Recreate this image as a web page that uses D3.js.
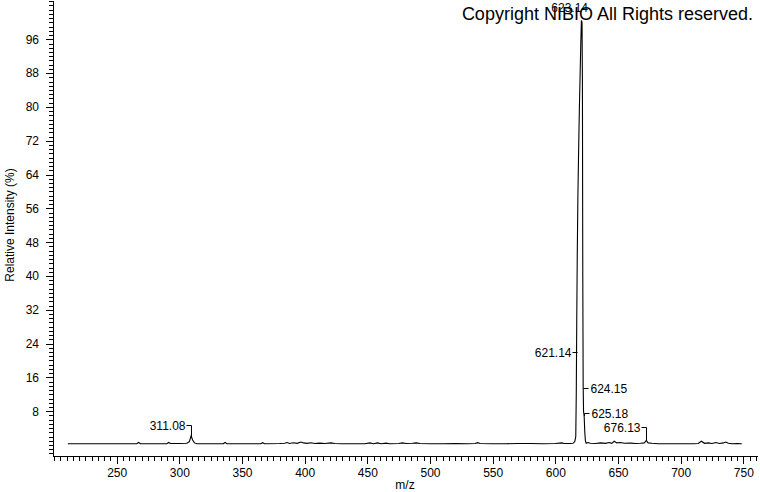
<!DOCTYPE html>
<html>
<head>
<meta charset="utf-8">
<script src="https://cdn.jsdelivr.net/npm/d3@7"></script>
<style>
  body { margin: 0; background: #fff; }
  text { font-family: "Liberation Sans", Arial, sans-serif; }
  .axis path, .axis line { stroke: #000; shape-rendering: crispEdges; }
  .axis text { font-size: 12px; fill: #000; }
</style>
</head>
<body>
<div id="chart"></div>
<script>
// spectrum: [m/z, relative intensity %]
var spectrum = [
  [211,0.3],[220,0.3],[230,0.3],[240,0.3],[250,0.3],[260,0.3],[266,0.3],[267.5,0.6],[269,0.3],
  [280,0.3],[290,0.3],[291.5,0.6],[293,0.35],[300,0.35],[306,0.4],[308,0.8],[309.4,2.2],
  [310.6,1.2],[312,0.5],[314,0.3],[325,0.3],[335,0.3],[336.5,0.6],[338,0.3],[350,0.3],
  [360,0.3],[365,0.3],[366.5,0.55],[368,0.3],[380,0.35],[384,0.4],[386,0.6],[388,0.35],
  [391,0.55],[394,0.4],[397,0.7],[399,0.5],[402,0.4],[405,0.55],[408,0.35],[412,0.45],
  [416,0.35],[421,0.5],[424,0.35],[430,0.3],[440,0.3],[448,0.3],[452,0.5],[455,0.3],
  [458,0.5],[461,0.3],[465,0.45],[468,0.3],[475,0.35],[478,0.5],[481,0.35],[486,0.4],
  [489,0.5],[492,0.35],[500,0.3],[510,0.3],[520,0.35],[530,0.3],[536,0.35],[538,0.55],
  [540,0.35],[550,0.3],[560,0.3],[570,0.35],[580,0.35],[590,0.3],[600,0.35],[605,0.5],
  [607,0.35],[612,0.35],[614,0.4],[615.5,0.8],[616.3,2],[616.7,12],[617.1,30],[617.5,45],
  [618.0,59],[618.6,70],[619.2,80],[619.8,88],[620.3,95],[620.8,100.5],[621.3,100],
  [621.6,86],[621.9,40],[622.2,14],[622.5,8],[623.0,6.8],[623.5,3],[624.0,1],[624.6,0.4],
  [626,0.6],[628,0.4],[632,0.35],[636,0.5],[640,0.4],[643,0.6],[645,0.4],[647,0.9],
  [649,0.5],[652,0.6],[655,0.4],[660,0.45],[664,0.35],[668,0.4],[671,0.5],[672.6,1.1],
  [674,0.5],[677,0.4],[682,0.3],[690,0.3],[700,0.3],[710,0.3],[714,0.35],[716.5,0.9],
  [719,0.4],[722,0.5],[725,0.35],[728,0.6],[731,0.35],[734,0.5],[736,0.7],[738,0.4],
  [741,0.3],[745,0.35],[748.7,0.3]
];

// peak annotations: label, where the leader points (m/z, %), label height (%), side
var peakLabels = ["311.08", "621.14", "624.15", "625.18", "676.13"];
var peakAt     = [309.4, 617.3, 622.1, 622.8, 672.6];
var peakTop    = [1.9, 22, 13.5, 6.8, 1.1];
var labelLevel = [4.7, 22, 13.5, 7.6, 4.2];
var labelSide  = ["left", "left", "right", "right", "left"];

var basePeak = "623.14";
var basePeakAt = 621.0;

var xMajor = [250, 300, 350, 400, 450, 500, 550, 600, 650, 700, 750];
var yMajor = [8, 16, 24, 32, 40, 48, 56, 64, 72, 80, 88, 96];

var width = 760, height = 492;

var svg = d3.select("#chart").append("svg")
  .attr("width", width)
  .attr("height", height);

/* Scales */
var x = d3.scaleLinear().domain([199.2, 760.9]).range([53, 757]);
var y = d3.scaleLinear().domain([-2.6, 105.3]).range([456, 0]);

/* Axes: minor ticks first, then labelled majors */
var xMinor = d3.range(200, 761, 5);
svg.append("g")
  .attr("class", "axis")
  .attr("transform", "translate(0,456)")
  .call(d3.axisBottom(x).tickValues(xMinor).tickSize(5).tickSizeOuter(0).tickFormat(""));
svg.append("g")
  .attr("class", "axis")
  .attr("transform", "translate(0,456)")
  .call(d3.axisBottom(x).tickValues(xMajor).tickSize(8).tickSizeOuter(0).tickPadding(4))
  .call(g => g.select(".domain").remove());

var yMinor = d3.range(-2, 106, 1);
svg.append("g")
  .attr("class", "axis")
  .attr("transform", "translate(53,0)")
  .call(d3.axisLeft(y).tickValues(yMinor).tickSize(4).tickSizeOuter(0).tickFormat(""));
svg.append("g")
  .attr("class", "axis")
  .attr("transform", "translate(53,0)")
  .call(d3.axisLeft(y).tickValues(yMajor).tickSize(7).tickSizeOuter(0).tickPadding(7))
  .call(g => g.select(".domain").remove());

svg.append("text")
  .attr("transform", "translate(14,225) rotate(-90)")
  .attr("text-anchor", "middle")
  .style("font-size", "12px")
  .text("Relative Intensity (%)");

svg.append("text")
  .attr("x", 405)
  .attr("y", 489)
  .attr("text-anchor", "middle")
  .style("font-size", "12px")
  .text("m/z");

/* base peak label sits under the copyright text */
svg.append("text")
  .attr("x", x(basePeakAt) - 12)
  .attr("y", 12)
  .attr("text-anchor", "middle")
  .style("font-size", "12px")
  .text(basePeak);

/* Spectrum */
var line = d3.line()
  .x(d => x(d[0]))
  .y(d => y(d[1]));

svg.append("path")
  .datum(spectrum)
  .attr("d", line)
  .attr("fill", "none")
  .attr("stroke", "#000")
  .attr("stroke-width", 1.1);

/* Peak labels with leaders */
peakLabels.forEach(function(lbl, i) {
  var px = Math.round(x(peakAt[i])) + 0.5;
  var ly = Math.round(y(labelLevel[i])) + 0.5;
  var ty = Math.round(y(peakTop[i]));
  var dx = labelSide[i] == "left" ? -5 : 5;
  svg.append("path")
    .attr("d", "M" + (px + dx) + "," + ly + "H" + px + "V" + Math.max(ty, ly))
    .attr("fill", "none")
    .attr("stroke", "#000")
    .attr("stroke-width", 1);
  svg.append("text")
    .attr("x", px + dx + (labelSide[i] == "left" ? -1 : 2))
    .attr("y", ly + 4.5)
    .attr("text-anchor", labelSide[i] == "left" ? "end" : "start")
    .style("font-size", "12px")
    .text(lbl);
});

svg.append("text")
  .attr("x", 753)
  .attr("y", 20)
  .attr("text-anchor", "end")
  .style("font-size", "18px")
  .text("Copyright NIBIO All Rights reserved.");
</script>
</body>
</html>
